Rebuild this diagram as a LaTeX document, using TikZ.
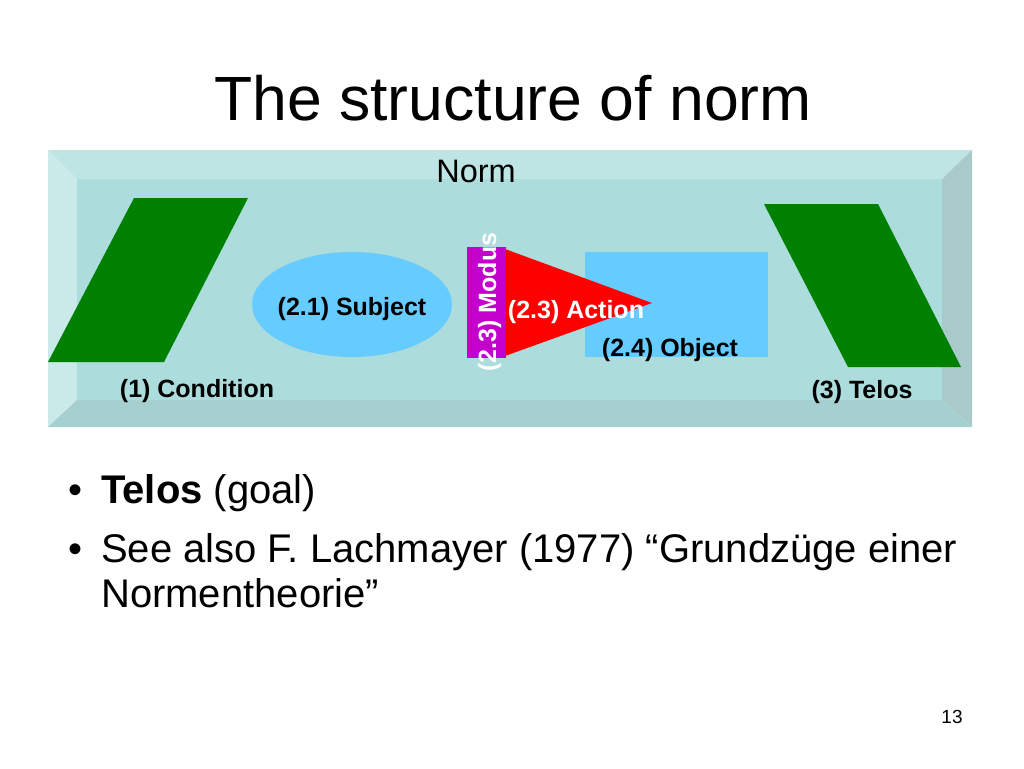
\documentclass[tikz,border=0pt]{standalone}
\usepackage{fontspec}
\setmainfont{Liberation Sans}
\usepackage{xcolor}
\definecolor{bevtop}{RGB}{190,228,228}
\definecolor{bevleft}{RGB}{202,234,234}
\definecolor{bevface}{RGB}{172,220,220}
\definecolor{bevbottom}{RGB}{166,208,208}
\definecolor{bevright}{RGB}{168,202,202}
\definecolor{normgreen}{RGB}{0,128,0}
\definecolor{skyblue}{RGB}{102,204,255}
\definecolor{modusviolet}{RGB}{196,0,204}
\tikzset{
  lbl/.style={font=\fontsize{25}{30}\selectfont\bfseries, anchor=base, inner sep=0pt},
  bullettext/.style={font=\fontsize{40}{46}\selectfont, anchor=base west, inner sep=0pt}
}

\begin{document}
\begin{tikzpicture}[x=1pt,y=-1pt]
        \useasboundingbox (0,0) rectangle (1024,768);

        \node[anchor=base, inner sep=0pt, font=\fontsize{62.5}{70}\selectfont] (title) at (513,120) {The structure of norm};

        % bevelled panel
        \fill[bevtop] (48,150) -- (972,150) -- (942,179) -- (77,179) -- cycle;
        \fill[bevleft] (48,150) -- (77,179) -- (77,400) -- (48,427) -- cycle;
        \fill[bevbottom] (48,427) -- (77,400) -- (942,400) -- (972,427) -- cycle;
        \fill[bevright] (972,150) -- (942,179) -- (942,400) -- (972,427) -- cycle;
        \fill[bevface] (77,179) rectangle (942,400);
        \node[anchor=base, inner sep=0pt, font=\fontsize{32.5}{36}\selectfont] (norm) at (476,182) {Norm};

        % condition and telos
        \fill[normgreen] (134,198) -- (248,198) -- (164,362) -- (48,362) -- cycle;
        \fill[normgreen] (764,204) -- (878,204) -- (961,367) -- (848,367) -- cycle;
        \node[lbl] (cond) at (197,397) {(1) Condition};
        \node[lbl] (telos) at (862,398) {(3) Telos};

        % subject, object, action, modus
        \fill[skyblue] (352,304.5) ellipse [x radius=100, y radius=52.5];
        \node[lbl] (subj) at (352,315) {(2.1) Subject};
        \fill[skyblue] (585,252) rectangle (768,357);
        \fill[red] (505,249) -- (652,303) -- (505,356) -- cycle;
        \fill[modusviolet] (467,247) rectangle (506,358);
        \node[lbl, white, rotate=90] (modus) at (496,302) {(2.3) Modus};
        \node[lbl, white] (action) at (576,318) {(2.3) Action};
        \node[lbl] (obj) at (670,356) {(2.4) Object};

        % bullets
        \node[bullettext, anchor=base] (dot1) at (76,503) {\textbullet};
        \node[bullettext] (item1) at (101,503) {\textbf{Telos} (goal)};
        \node[bullettext, anchor=base] (dot2) at (76,562) {\textbullet};
        \node[bullettext] (item2) at (101,562) {See also F. Lachmayer (1977) “Grundzüge einer};
        \node[bullettext] (item2b) at (101,607) {Normentheorie”};

        \node[anchor=base, inner sep=0pt, font=\fontsize{19}{22}\selectfont] (page) at (952,723) {13};
    \end{tikzpicture}
\end{document}
